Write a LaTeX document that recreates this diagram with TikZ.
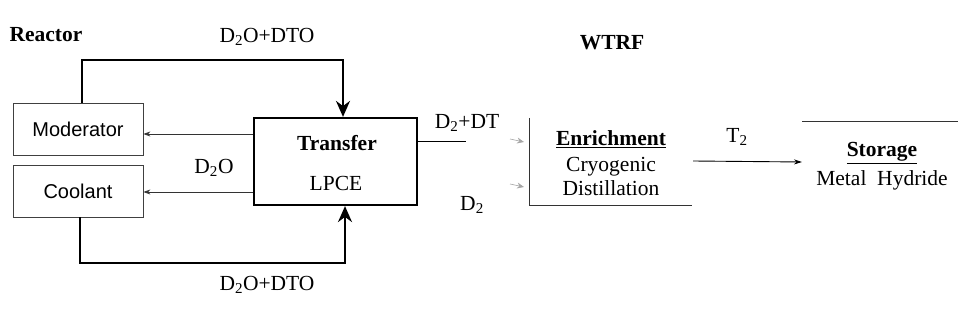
\documentclass[tikz,border=0pt]{standalone}
\usepackage{fontspec}
\setmainfont{Liberation Serif}
\setsansfont{Liberation Sans}
\usetikzlibrary{arrows.meta}
\begin{document}
\begin{tikzpicture}[x=1pt,y=-1pt,
  txt/.style={font=\fontsize{21.5}{23}\selectfont, inner sep=0pt},
  btxt/.style={font=\fontsize{21.5}{23}\selectfont\bfseries, inner sep=0pt},
  thinbox/.style={draw=black!75, line width=0.8pt, minimum width=130pt, minimum height=52pt, inner sep=0pt, font=\fontsize{20}{22}\sffamily\selectfont},
  thickbox/.style={draw=black, line width=2.2pt, minimum width=163pt, minimum height=87pt, inner sep=0pt},
  thickflow/.style={line width=2.2pt, -{Stealth[length=16pt,width=14pt]}},
  thinflow/.style={draw=black!80, line width=0.8pt, -{Stealth[length=7pt,width=5pt]}},
  faintflow/.style={draw=black!35, line width=0.6pt, -{Stealth[length=7pt,width=6pt]}},
  openline/.style={draw=black!80, line width=1pt}]
\useasboundingbox (0,0) rectangle (958,323);
% titles
\node[btxt] (reactor) at (46,35) {Reactor};
\node[btxt] (wtrf) at (612,43) {WTRF};
% reactor boxes
\node[thinbox] (mod) at (78,129) {Moderator};
\node[thinbox] (cool) at (78,191) {Coolant};
\node[thickbox] (tr) at (335.5,161.5) {};
\node[btxt] (trt) at (337,143) {Transfer};
\node[txt] (lpce) at (336,183) {LPCE};
% loops
\coordinate (tl1) at (82,60);
\coordinate (tl2) at (343,60);
\draw[thickflow] (mod.north -| tl1) -- (tl1) -- (tl2) -- (tr.north -| tl2);
\coordinate (bl1) at (80,263);
\coordinate (bl2) at (345,263);
\draw[thickflow] (cool.south -| bl1) -- (bl1) -- (bl2) -- (tr.south -| bl2);
\node[txt] (ltop) at (267,37) {D\textsubscript{2}O+DTO};
\node[txt] (lbot) at (267,285) {D\textsubscript{2}O+DTO};
% return flows
\coordinate (r1) at (0,134);
\coordinate (r2) at (0,192);
\draw[thinflow] (tr.west |- r1) -- (mod.east |- r1);
\draw[thinflow] (tr.west |- r2) -- (cool.east |- r2);
\node[txt] (ld2o) at (214,168) {D\textsubscript{2}O};
% to enrichment
\coordinate (o1) at (466,141);
\draw[line width=0.9pt] (tr.east |- o1) -- (o1);
\node[txt] (ld2dt) at (467,123) {D\textsubscript{2}+DT};
\node[txt] (ld2) at (472,205) {D\textsubscript{2}};
% enrichment (open box)
\coordinate (e1) at (529,118);
\coordinate (e2) at (529,206);
\coordinate (e3) at (692,206);
\draw[openline] (e1) -- (e2) -- (e3);
\coordinate (a1) at (510,139);
\coordinate (a2) at (510,184);
\draw[faintflow] (a1) -- (524,142);
\draw[faintflow] (a2) -- (524,187);
\node[btxt] (enr) at (611,139) {\underline{Enrichment}};
\node[txt] (cryo) at (611,167) {Cryogenic};
\node[txt] (dist) at (611,188) {Distillation};
% to storage
\coordinate (t1) at (693,161);
\coordinate (t2) at (802,162);
\draw[line width=0.9pt, -{Stealth[length=8pt,width=5pt]}] (t1) -- (t2);
\node[txt] (lt2) at (737,137) {T\textsubscript{2}};
\coordinate (s1) at (802,122);
\coordinate (s2) at (958,122);
\draw[openline] (s1) -- (s2);
\node[btxt] (stor) at (882,153) {\underline{Storage}};
\node[txt] (mh) at (882,180) {Metal\ \ Hydride};
\end{tikzpicture}
\end{document}
